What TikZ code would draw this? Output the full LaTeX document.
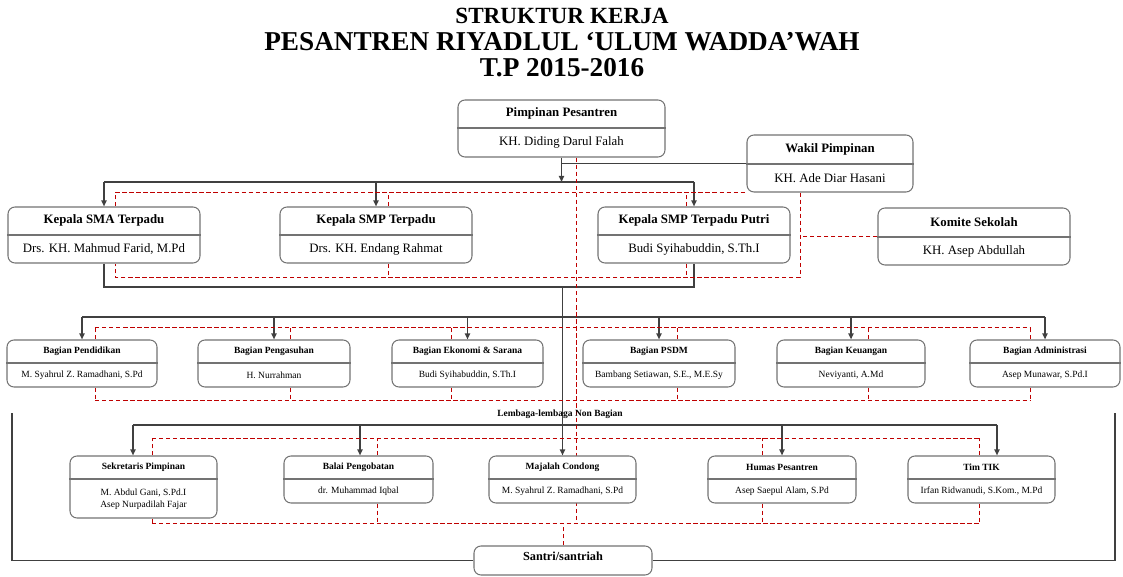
\documentclass[tikz,border=0pt]{standalone}
\usepackage{fontspec}
\setmainfont{Liberation Serif}
\usetikzlibrary{arrows.meta,calc,fit}
\pgfdeclarelayer{background}
\pgfsetlayers{background,main}

\tikzset{
  unit/.style={draw=black!55, line width=0.6pt, rounded corners=4pt, fill=white, inner sep=0pt},
  unitline/.style={draw=black!55, line width=0.6pt},
  head title/.style={font=\fontsize{7.3}{8.5}\selectfont\bfseries},
  head name/.style={font=\fontsize{7.3}{8.5}\selectfont},
  small title/.style={font=\fontsize{5.4}{6.5}\selectfont\bfseries},
  small name/.style={font=\fontsize{5.4}{6.8}\selectfont, align=center},
  conn/.style={draw=black!75, line width=0.9pt},
  arr/.style={-{Triangle[length=3.5pt,width=3pt]}},
  rel/.style={draw=red!75!black, line width=0.45pt, dash pattern=on 2.5pt off 1.5pt},
}

% box with title part and name part: [style] name, x1, y1, x2, y2, y of divider, title, name
\newcommand{\orgunit}[9][head]{%
  \node[unit, fit={(#3,#4) (#5,#6)}] (#2) {};
  \coordinate (#2-d) at (0,#7);
  \draw[unitline] (#2.west |- #2-d) -- (#2.east |- #2-d);
  \node[#1 title] (#2-title) at ($(#2.north west)!.5!(#2.east |- #2-d)$) {#8};
  \node[#1 name] (#2-name) at ($(#2.west |- #2-d)!.5!(#2.south east)$) {#9};
}

\begin{document}
\begin{tikzpicture}[x=0.02cm, y=-0.02cm]
  \useasboundingbox (0,0) rectangle (1123,577);

  \node[font=\fontsize{13.2}{15}\selectfont\bfseries] (judul1) at (562,16) {STRUKTUR KERJA};
  \node[font=\fontsize{15.5}{17}\selectfont\bfseries] (judul2) at (562,42) {PESANTREN RIYADLUL ‘ULUM WADDA’WAH};
  \node[font=\fontsize{15.5}{17}\selectfont\bfseries] (judul3) at (562,68) {T.P 2015-2016};

  % pimpinan dan kepala sekolah
  \orgunit{pimpinan}{458}{100}{665}{157}{128}{Pimpinan Pesantren}{KH. Diding Darul Falah}
  \orgunit{wakil}{747}{135}{913}{192}{164}{Wakil Pimpinan}{KH. Ade Diar Hasani}
  \orgunit{sma}{8}{207}{200}{263}{235}{Kepala SMA Terpadu}{Drs. KH. Mahmud Farid, M.Pd}
  \orgunit{smp}{280}{207}{472}{263}{235}{Kepala SMP Terpadu}{Drs. KH. Endang Rahmat}
  \orgunit{putri}{598}{207}{790}{263}{235}{Kepala SMP Terpadu Putri}{Budi Syihabuddin, S.Th.I}
  \orgunit{komite}{878}{208}{1070}{265}{237}{Komite Sekolah}{KH. Asep Abdullah}

  % bagian
  \orgunit[small]{pendidikan}{7}{340}{157}{387}{363}{Bagian Pendidikan}{M. Syahrul Z. Ramadhani, S.Pd}
  \orgunit[small]{pengasuhan}{198}{340}{350}{387}{363}{Bagian Pengasuhan}{H. Nurrahman}
  \orgunit[small]{ekonomi}{392}{340}{543}{387}{363}{Bagian Ekonomi \& Sarana}{Budi Syihabuddin, S.Th.I}
  \orgunit[small]{psdm}{583}{340}{735}{387}{363}{Bagian PSDM}{Bambang Setiawan, S.E., M.E.Sy}
  \orgunit[small]{keuangan}{777}{340}{925}{387}{363}{Bagian Keuangan}{Neviyanti, A.Md}
  \orgunit[small]{administrasi}{970}{340}{1120}{387}{363}{Bagian Administrasi}{Asep Munawar, S.Pd.I}

  \node[small title] (lembaga) at (560,414) {Lembaga-lembaga Non Bagian};

  % lembaga non bagian
  \orgunit[small]{sekretaris}{70}{456}{217}{518}{479}{Sekretaris Pimpinan}{M. Abdul Gani, S.Pd.I\\Asep Nurpadilah Fajar}
  \orgunit[small]{balai}{284}{456}{433}{503}{479}{Balai Pengobatan}{dr. Muhammad Iqbal}
  \orgunit[small]{majalah}{489}{456}{636}{503}{479}{Majalah Condong}{M. Syahrul Z. Ramadhani, S.Pd}
  \orgunit[small]{humas}{708}{456}{856}{503}{479}{Humas Pesantren}{Asep Saepul Alam, S.Pd}
  \orgunit[small]{tik}{908}{456}{1055}{503}{479}{Tim TIK}{Irfan Ridwanudi, S.Kom., M.Pd}

  \node[unit, fit={(474,546) (652,575)}, font=\fontsize{7}{8}\selectfont\bfseries] (santri) {Santri/santriah};

  \coordinate (headBus) at (0,182);
  \coordinate (headBus2) at (0,287);
  \coordinate (headRedLow) at (0,277);
  \coordinate (bagBus) at (0,317);
  \coordinate (bagRedTop) at (0,327);
  \coordinate (bagRedLow) at (0,400);
  \coordinate (lowBus) at (0,425);
  \coordinate (lowRedTop) at (0,438);
  \coordinate (lowRedLow) at (0,523);
  \coordinate (leftEnd) at (12,413);
  \coordinate (rightEnd) at (1115,413);
  \coordinate (wakilRed) at ([xshift=-0.6cm]wakil.south);

  \begin{pgfonlayer}{background}
    % garis komando
    \draw[conn,arr] (pimpinan.south) -- (pimpinan.south |- headBus);
    \draw[conn] (pimpinan.south |- wakil.west) -- (wakil.west);
    \draw[conn] (sma.north |- headBus) -- (putri.north |- headBus);
    \foreach \n in {sma,smp,putri}
      \draw[conn,arr] (\n.north |- headBus) -- (\n.north);
    \draw[conn] (sma.south) |- (putri.south |- headBus2) -- (putri.south);
    \draw[conn,arr] (majalah.north |- headBus2) -- (majalah.north);

    \draw[conn] (pendidikan.north |- bagBus) -- (administrasi.north |- bagBus);
    \foreach \n/\dx in {pendidikan/0.26, pengasuhan/0.32, ekonomi/-0.32, psdm/0.36, keuangan/0.34, administrasi/-0.3} {
      \draw[conn,arr] (\n.north |- bagBus) -- (\n.north);
      \draw[rel] ([xshift=\dx cm]\n.north) -- ([xshift=\dx cm]\n.north |- bagRedTop);
      \draw[rel] ([xshift=\dx cm]\n.south) -- ([xshift=\dx cm]\n.south |- bagRedLow);
    }
    \draw[rel] ([xshift=0.26cm]pendidikan.north |- bagRedTop) -- ([xshift=-0.3cm]administrasi.north |- bagRedTop);
    \draw[rel] ([xshift=0.26cm]pendidikan.south |- bagRedLow) -- ([xshift=-0.3cm]administrasi.south |- bagRedLow);

    \draw[conn] ([xshift=-0.21cm]sekretaris.north |- lowBus) -- ([xshift=0.31cm]tik.north |- lowBus);
    \foreach \n/\a/\dx in {sekretaris/-0.21/0.17, balai/0.03/0.37, humas/0/-0.4, tik/0.31/-0.05} {
      \draw[conn,arr] ([xshift=\a cm]\n.north |- lowBus) -- ([xshift=\a cm]\n.north);
      \draw[rel] ([xshift=\dx cm]\n.north) -- ([xshift=\dx cm]\n.north |- lowRedTop);
      \draw[rel] ([xshift=\dx cm]\n.south) -- ([xshift=\dx cm]\n.south |- lowRedLow);
    }
    \draw[rel] ([xshift=0.17cm]sekretaris.north |- lowRedTop) -- ([xshift=-0.05cm]tik.north |- lowRedTop);
    \draw[rel] ([xshift=0.17cm]sekretaris.south |- lowRedLow) -- ([xshift=-0.05cm]tik.south |- lowRedLow);

    \draw[conn] (santri.west) -| (leftEnd);
    \draw[conn] (santri.east) -| (rightEnd);

    % garis koordinasi
    \draw[rel] ([xshift=0.3cm]pimpinan.south) -- ([xshift=0.3cm]pimpinan.south |- lowRedLow);
    \draw[rel] ([xshift=0.22cm]sma.north) |- (wakil.south west);
    \draw[rel] ([xshift=0.24cm]smp.north) -- ([xshift=0.24cm]smp.north |- wakil.south);
    \draw[rel] ([xshift=-0.16cm]putri.north) -- ([xshift=-0.16cm]putri.north |- wakil.south);
    \draw[rel] (wakilRed) |- ([xshift=0.22cm]sma.south |- headRedLow) -- ([xshift=0.22cm]sma.south);
    \draw[rel] ([xshift=0.24cm]smp.south) -- ([xshift=0.24cm]smp.south |- headRedLow);
    \draw[rel] ([xshift=-0.16cm]putri.south) -- ([xshift=-0.16cm]putri.south |- headRedLow);
    \draw[rel] (komite.west) -- (komite.west -| wakilRed);
    \draw[rel] (santri.north) -- (santri.north |- lowRedLow);
  \end{pgfonlayer}
\end{tikzpicture}
\end{document}
